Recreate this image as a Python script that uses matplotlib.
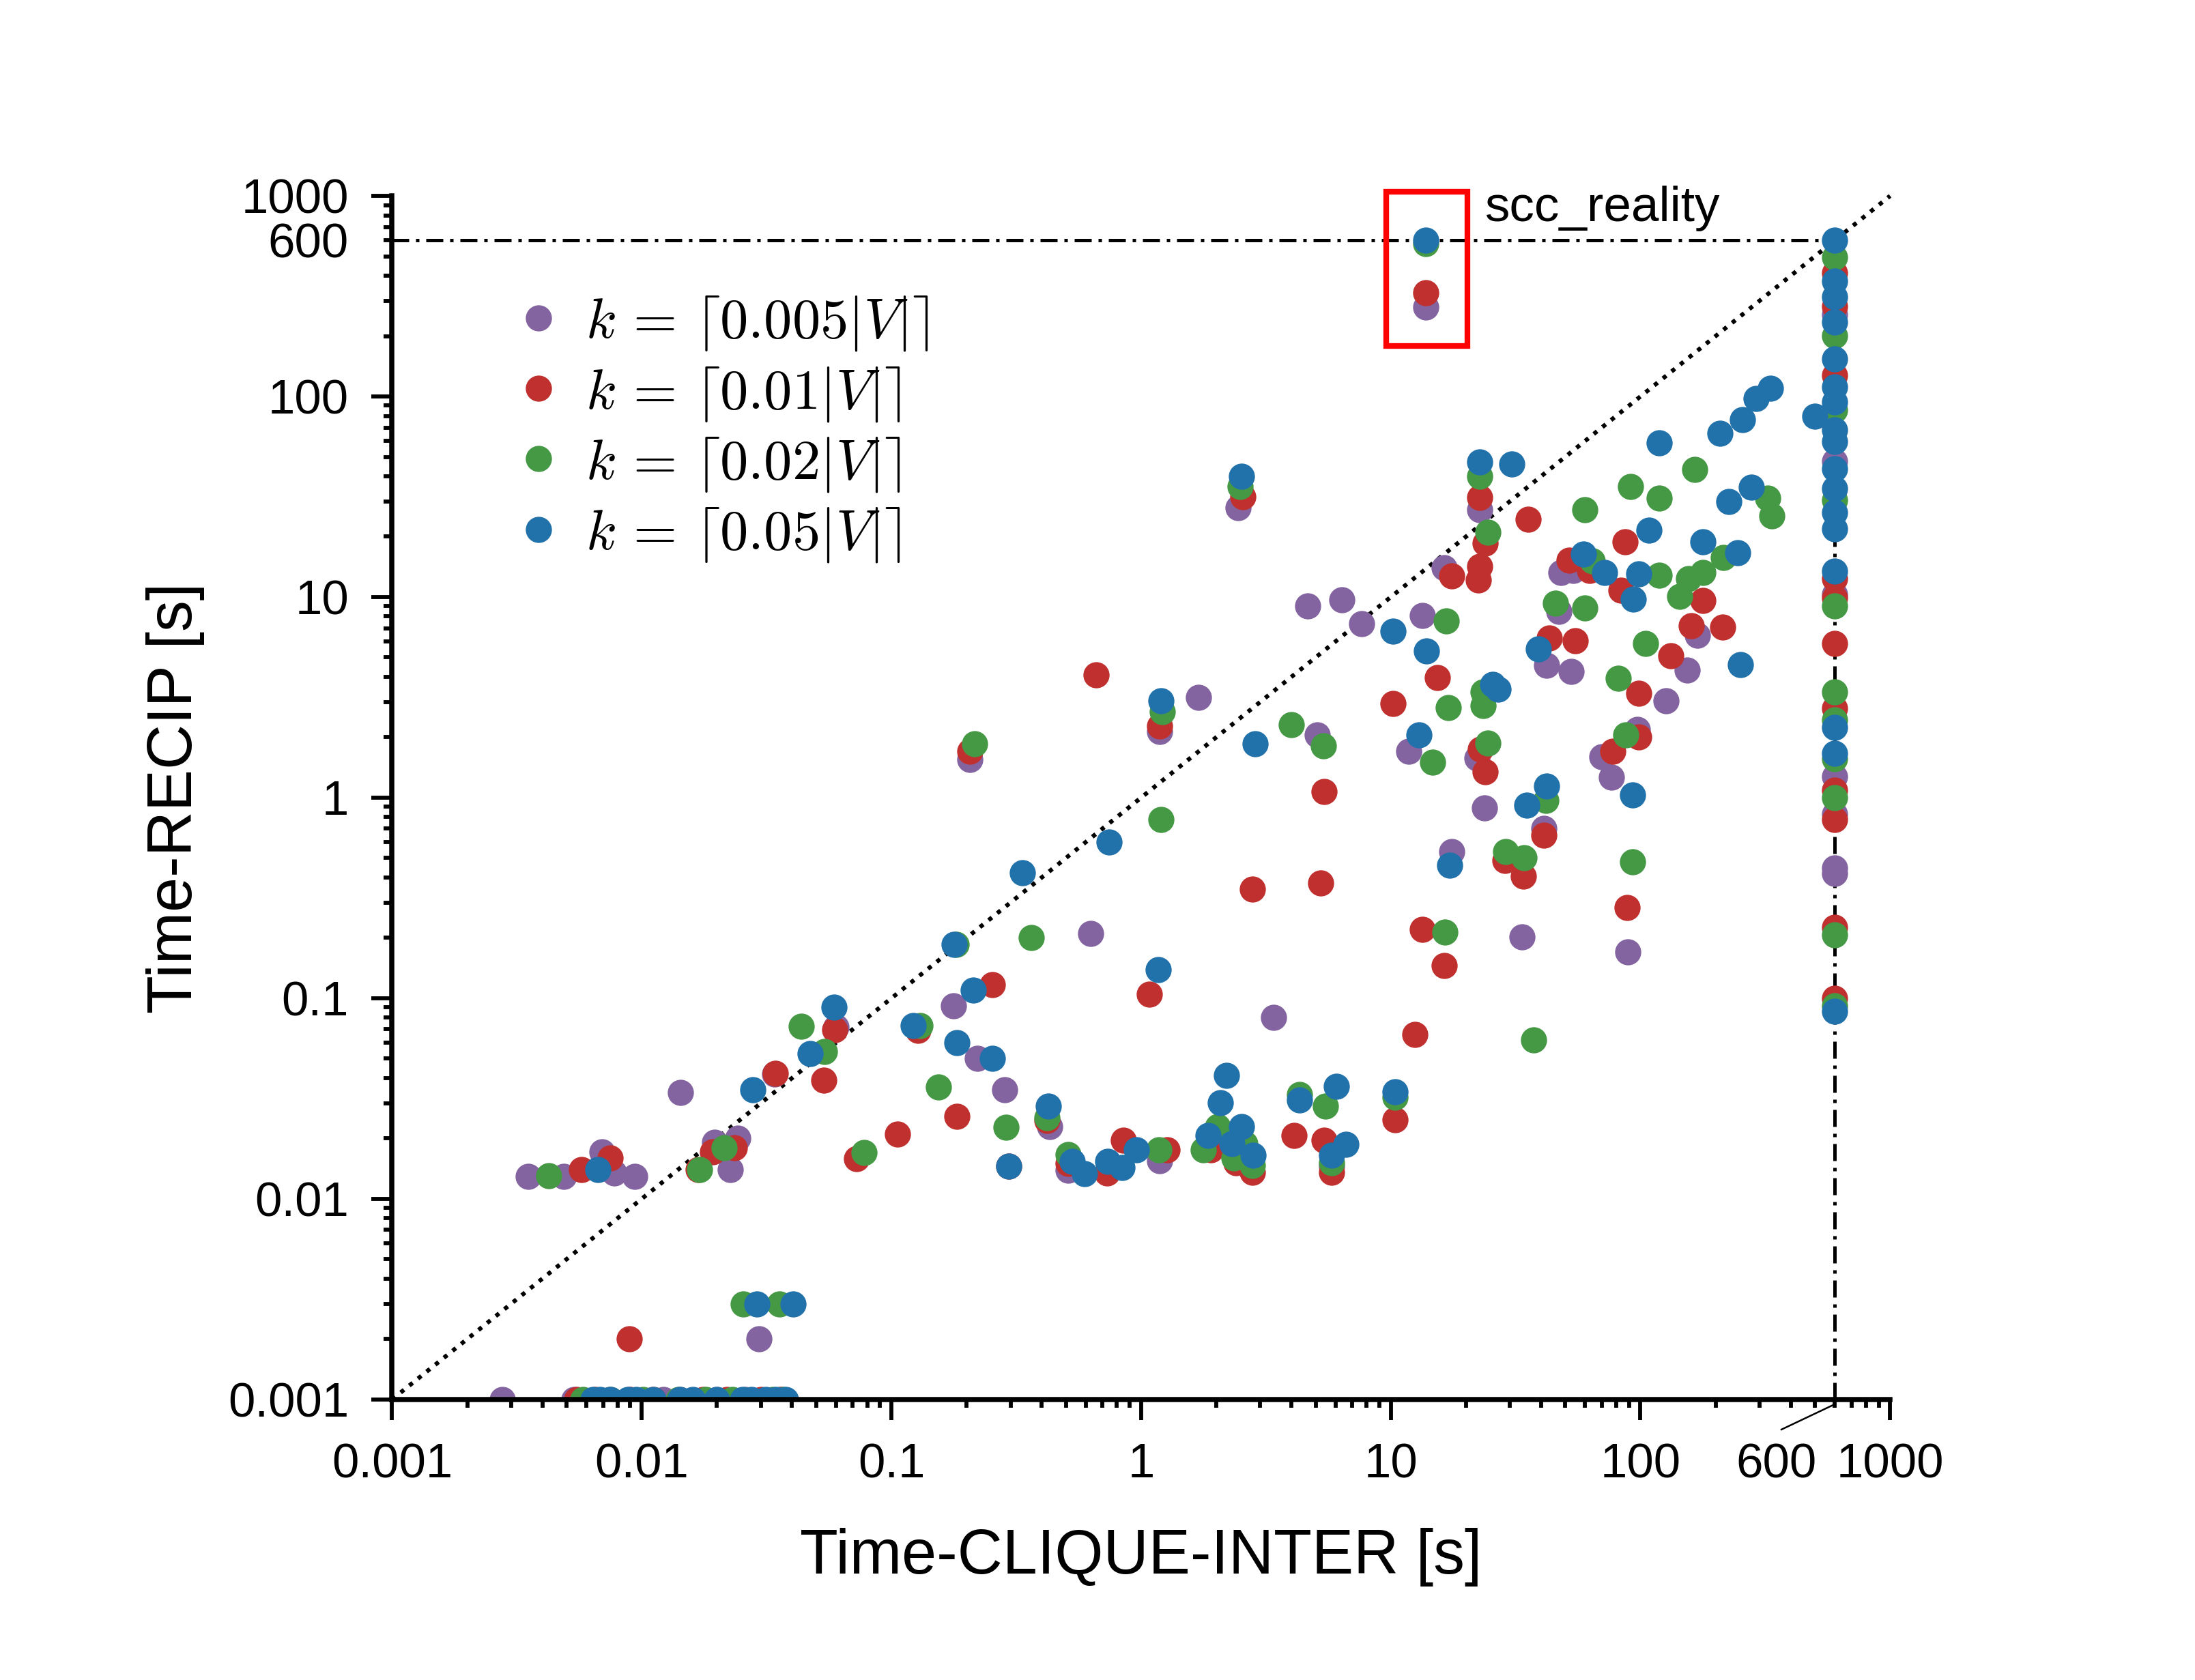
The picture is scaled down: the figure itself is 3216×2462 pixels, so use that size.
import numpy as np
import matplotlib
matplotlib.use("Agg")
import matplotlib.pyplot as plt
import matplotlib.transforms as mtransforms
from matplotlib.patches import Rectangle
from matplotlib.ticker import FixedLocator, LogLocator, FuncFormatter

plt.rcParams['font.family'] = ['Liberation Sans', 'DejaVu Sans']
plt.rcParams['mathtext.fontset'] = 'cm'

# time limit (s) and the lower bound of the plot
timeout = 600
floor = 0.001

labels = [r'$k\,=\,\lceil 0.005|V|\rceil$', r'$k\,=\,\lceil 0.01|V|\rceil$',
          r'$k\,=\,\lceil 0.02|V|\rceil$', r'$k\,=\,\lceil 0.05|V|\rceil$']
colors = ['#8364A0', '#C0302F', '#459945', '#2171AA']

# ---- k = 0.005|V| ----
purple_x = [0.0295,
            0.00352, 0.00488, 0.00692, 0.00776, 0.00935,
            0.0196, 0.0242, 0.0226, 0.0143, 0.034, 0.060,
            0.177, 0.221, 0.284, 0.43, 0.51, 1.19, 0.63, 3.4,
            0.206, 1.19, 1.70, 2.45,
            4.64, 6.36, 7.64, 13.4, 16.4, 22.7,
            11.8, 5.09, 22.1, 23.7, 41.0, 17.6, 33.6, 89.2,
            48.1, 53.9, 47.1, 42.1, 52.8, 97.3, 70.3, 76.6, 169, 154, 127,
            5.8, 13.8]
purple_y = [0.002,
            0.0129, 0.0129, 0.0171, 0.0135, 0.0129,
            0.0192, 0.0201, 0.014, 0.034, 0.042, 0.072,
            0.092, 0.050, 0.035, 0.023, 0.0139, 0.0155, 0.21, 0.080,
            1.55, 2.14, 3.15, 27.8,
            9.04, 9.66, 7.38, 8.07, 14.0, 27.2,
            1.7, 2.05, 1.57, 0.89, 0.70, 0.537, 0.202, 0.17,
            13.3, 13.6, 8.45, 4.56, 4.27, 2.19, 1.6, 1.26, 6.45, 4.34, 3.05,
            0.0145, 279]
purple_floor = [0.00276, 0.00535, 0.0075, 0.0089, 0.0122, 0.0142, 0.020, 0.026, 0.036]
purple_cap = [256, 47.6, 10.3, 1.27, 0.83, 0.445, 0.42]

# ---- k = 0.01|V| ----
red_x = [0.0089,
         0.00574, 0.00749, 0.0192, 0.0235, 0.0168,
         0.0344, 0.0536, 0.0592, 0.0727, 0.106,
         0.128, 0.254, 0.183, 0.42, 0.296,
         0.51, 0.73, 0.851, 1.27, 1.9, 2.4, 2.8,
         4.1, 5.4, 5.8, 10.4,
         1.08, 12.5, 13.4, 16.4,
         2.8, 5.24, 5.42, 10.2,
         0.206, 0.66, 1.19, 2.55,
         15.4, 17.5, 22.7, 22.4, 23.9, 22.7, 35.6,
         22.9, 23.9, 28.7, 34.0, 41.0, 88.5,
         51.9, 62.4, 83.6, 86.9, 178, 160, 213, 132, 98.4, 43.2, 54.9, 98.4, 77.4,
         13.8]
red_y = [0.002,
         0.014, 0.016, 0.0171, 0.018, 0.014,
         0.0423, 0.0391, 0.0699, 0.0159, 0.021,
         0.069, 0.117, 0.0258, 0.0245, 0.0145,
         0.015, 0.0135, 0.0196, 0.0175, 0.0175, 0.0151, 0.0136,
         0.0207, 0.0196, 0.0136, 0.0248,
         0.105, 0.066, 0.22, 0.145,
         0.35, 0.376, 1.07, 2.94,
         1.70, 4.1, 2.28, 31.6,
         3.97, 12.7, 14.2, 12.2, 18.6, 31.5, 24.5,
         1.75, 1.35, 0.486, 0.406, 0.65, 0.283,
         15.3, 13.6, 10.8, 18.8, 9.6, 7.21, 7.06, 5.08, 3.32, 6.25, 6.08, 2.0, 1.7,
         330]
red_floor = [0.0055, 0.0065, 0.009, 0.0111, 0.0176, 0.022, 0.030, 0.036]
red_cap = [413, 281, 128, 12.4, 9.9, 5.86, 2.8, 1.09, 0.78, 0.226, 0.1]

# ---- k = 0.02|V| ----
green_x = [0.0255, 0.0357,
           0.00423, 0.0171, 0.0214,
           0.0435, 0.054, 0.0778,
           0.13, 0.154, 0.287, 0.364, 0.182,
           0.42, 0.512, 1.18,
           1.78, 2.03, 2.6, 2.35, 2.8,
           4.3, 5.48, 5.8, 10.4,
           16.5, 37.3, 1.2,
           0.216, 1.22, 4.0, 5.38, 14.7,
           24.5, 28.9, 34.1, 41.8, 93.1,
           23.5, 23.4, 17.0, 16.7, 24.5, 22.7, 2.5,
           60, 91.2, 119, 165, 324, 337, 215,
           64, 144, 156, 178, 119, 105, 81.5, 87.5, 45.7, 60,
           13.8]
green_y = [0.003, 0.003,
           0.013, 0.014, 0.018,
           0.0725, 0.0544, 0.017,
           0.073, 0.036, 0.0227, 0.2, 0.186,
           0.0253, 0.0166, 0.0175,
           0.0175, 0.023, 0.0189, 0.016, 0.0147,
           0.033, 0.029, 0.0151, 0.032,
           0.213, 0.0622, 0.78,
           1.85, 2.69, 2.32, 1.81, 1.5,
           1.87, 0.537, 0.50, 0.97, 0.48,
           2.87, 3.36, 2.81, 7.62, 21.0, 39.9, 35.6,
           27.2, 35.6, 31.1, 43.1, 31.1, 25.4, 15.7,
           15.2, 10.1, 12.4, 13.3, 12.8, 5.89, 3.94, 2.05, 9.34, 8.84,
           577]
green_floor = [0.0058, 0.0075, 0.0101, 0.014, 0.0181, 0.0231, 0.0334, 0.037]
green_cap = [494, 201, 85.5, 30.4, 9.03, 3.36, 2.45, 1.56, 1.0, 0.207, 0.092]

# ---- k = 0.05|V| ----
blue_x = [0.029, 0.0405,
          0.00668,
          0.0278, 0.0474, 0.0589, 0.122,
          0.178, 0.213, 0.183, 0.254, 0.334, 0.745, 0.424, 0.296,
          0.53, 0.594, 0.735, 0.84, 0.958,
          1.86, 2.31, 2.52, 2.81, 2.2, 2.08,
          4.3, 6.04, 6.6, 5.8, 10.4,
          1.17, 1.2, 2.52, 2.86,
          13.9, 10.2, 13.0, 17.2, 35.1, 42.1, 93.1,
          22.7, 30.6, 25.6, 26.9,
          59.3, 71.8, 98.4, 93.8, 39.0, 251, 108, 178, 246,
          119, 208, 256, 290, 332, 499,
          226, 279,
          13.8]
blue_y = [0.003, 0.003,
          0.014,
          0.0351, 0.0528, 0.0906, 0.073,
          0.186, 0.11, 0.06, 0.05, 0.423, 0.6, 0.029, 0.0145,
          0.0154, 0.0133, 0.0154, 0.0143, 0.0175,
          0.0207, 0.0189, 0.023, 0.0165, 0.0414, 0.0301,
          0.031, 0.0365, 0.0187, 0.0165, 0.0342,
          0.139, 3.05, 40, 1.86,
          5.38, 6.76, 2.05, 0.459, 0.92, 1.14, 1.03,
          47.1, 46.1, 3.68, 3.47,
          16.4, 13.3, 13.1, 9.77, 5.52, 4.6, 21.6, 18.8, 16.6,
          58.5, 65.5, 76.7, 98, 110, 80,
          30, 35.4,
          600]
blue_floor = [0.0064, 0.0068, 0.0075, 0.0088, 0.0095, 0.0111, 0.0142, 0.016,
              0.0199, 0.0254, 0.0275, 0.0314, 0.0345, 0.0377]
blue_cap = [600, 377, 315, 234, 154, 112, 93.6, 68.3, 59.7, 43.5, 34.8,
            26.5, 21.8, 13.5, 2.24, 1.66, 0.0863]

series = [(purple_x, purple_y, purple_floor, purple_cap),
          (red_x, red_y, red_floor, red_cap),
          (green_x, green_y, green_floor, green_cap),
          (blue_x, blue_y, blue_floor, blue_cap)]

fig = plt.figure(figsize=(10.72, 8.2067), dpi=300)
ax = fig.add_axes([0.1786, 0.167, 0.6825, 0.7164])

# reference lines
ax.plot([1e-3, 1e3], [1e-3, 1e3], color='k', ls=(0, (1, 1.6)), lw=1.5, clip_on=False, zorder=1)
ax.plot([1e-3, timeout], [timeout, timeout], color='k', ls=(0, (5, 2, 1, 2)), lw=1.2, zorder=1)
ax.plot([timeout, timeout], [1e-3, timeout], color='k', ls=(0, (5, 2, 1, 2)), lw=1.2, zorder=1)

for (xs, ys, fl, cap), lab, c in zip(series, labels, colors):
    allx = list(xs) + list(fl) + [timeout] * len(cap)
    ally = list(ys) + [floor] * len(fl) + list(cap)
    ax.plot(allx, ally, 'o', ms=9.2, mew=0, color=c, label=lab, zorder=2)

ax.set_xscale('log')
ax.set_yscale('log')
ax.set_xlim(1e-3, 1e3)
ax.set_ylim(1e-3, 1e3)

for s in ['top', 'right']:
    ax.spines[s].set_visible(False)
for s in ['left', 'bottom']:
    ax.spines[s].set_linewidth(1.8)

decades = [1e-3, 1e-2, 1e-1, 1, 10, 100, 1000]
dec_labels = ['0.001', '0.01', '0.1', '1', '10', '100', '1000']
for axis in [ax.xaxis, ax.yaxis]:
    axis.set_major_locator(FixedLocator(decades))
    axis.set_major_formatter(FuncFormatter(lambda v, p: dec_labels[decades.index(v)] if v in decades else ''))
    axis.set_minor_locator(LogLocator(base=10, subs=np.arange(2, 10), numticks=20))
ax.xaxis.set_minor_formatter(FuncFormatter(lambda v, p: ''))
ax.yaxis.set_minor_formatter(FuncFormatter(lambda v, p: '600' if abs(v - 600) < 1 else ''))

ax.tick_params(which='major', direction='out', length=7.2, width=1.4, labelsize=17, pad=8)
ax.tick_params(which='minor', direction='out', length=2.8, width=1.4, labelsize=17, pad=12.4)

# "600" on the x axis, pulled left with a leader line
trans = mtransforms.blended_transform_factory(ax.transData, ax.transAxes)
ax.text(350, -0.0359, '600', transform=trans, ha='center', va='top', fontsize=17)
ax.plot([timeout, 367], [-0.004, -0.025], transform=trans, color='k', lw=0.6, clip_on=False)

# highlighted instance
ax.add_patch(Rectangle((9.6, 178), 20.3 - 9.6, 1050 - 178, fill=False, ec='#FF0000', lw=2.0, clip_on=False, zorder=3))
ax.text(23.7, 750, 'scc_reality', fontsize=17.5, va='baseline')

ax.set_xlabel('Time-CLIQUE-INTER [s]', fontsize=22, labelpad=14)
ax.set_ylabel('Time-RECIP [s]', fontsize=22, labelpad=8)

ax.legend(loc='upper left', bbox_to_anchor=(0.064, 0.937), frameon=False, fontsize=19.8,
          handletextpad=0.33, labelspacing=0.21, borderaxespad=0, handlelength=1.0)

fig.savefig('out.png', dpi=300)
